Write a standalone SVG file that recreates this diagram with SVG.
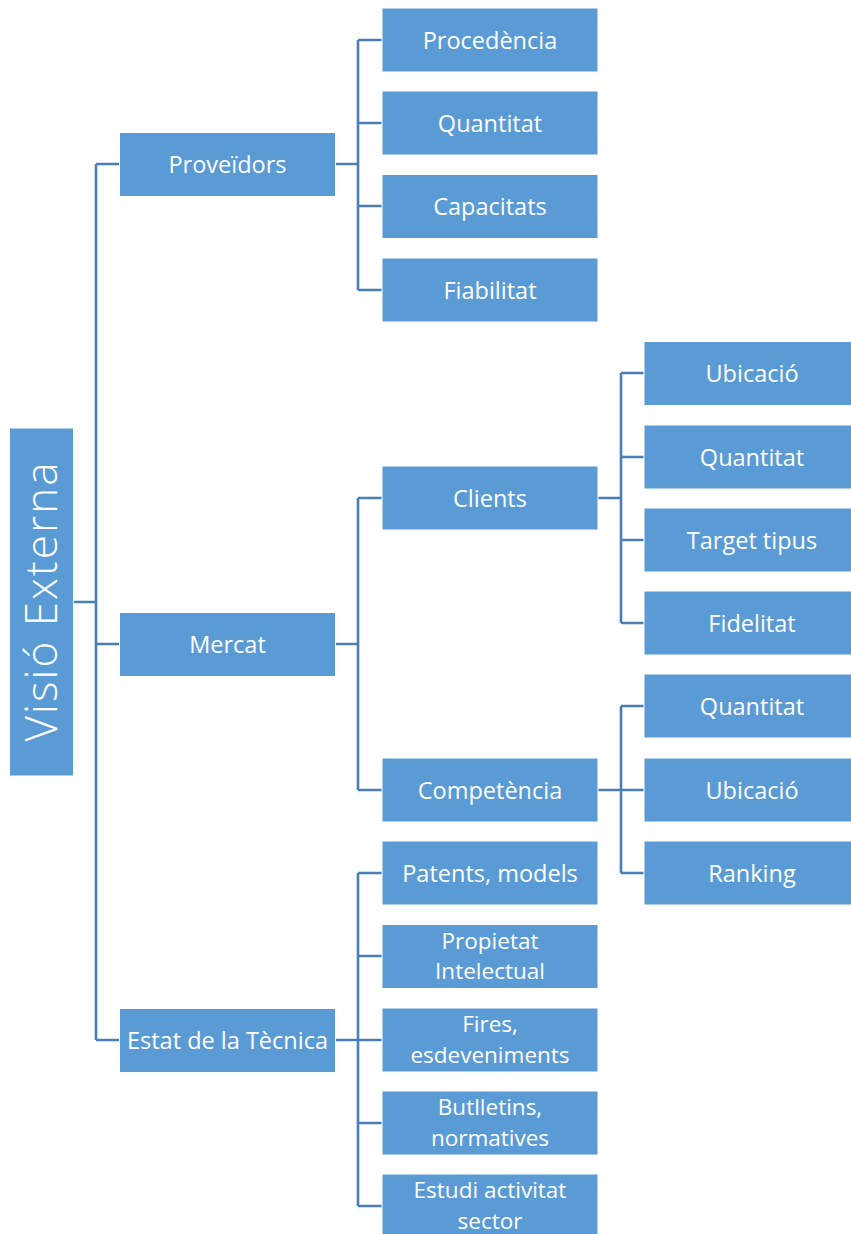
<svg xmlns="http://www.w3.org/2000/svg" width="851" height="1234" viewBox="0 0 851 1234">
  <style>
    .box { fill: #5B9BD5; stroke: #FFFFFF; stroke-width: 1; }
    .lbl { fill: #FFFFFF; font-family: "Open Sans", "Noto Sans", "Liberation Sans", sans-serif; font-size: 23.5px; text-anchor: middle; }
    .lbl2 { font-size: 22.5px; }
    .root { fill: #FFFFFF; font-family: "Open Sans", "Noto Sans", "Liberation Sans", sans-serif; font-weight: 300; font-size: 44px; text-anchor: middle; }
    .conn { fill: none; stroke: #4A7EB7; stroke-width: 2.6; }
  </style>
  <rect width="851" height="1234" fill="#FFFFFF"/>

  <!-- connectors -->
  <g id="connectors" class="conn">
    <!-- root to level 1 -->
    <path d="M73 602 H96 M96 164 V1040 M96 164 H119 M96 644 H119 M96 1040 H119"/>
    <!-- Proveïdors -->
    <path d="M335 164 H358 M358 40 V290 M358 40 H382 M358 123 H382 M358 206 H382 M358 290 H382"/>
    <!-- Mercat -->
    <path d="M335 644 H358 M358 498 V790 M358 498 H382 M358 790 H382"/>
    <!-- Estat de la Tècnica -->
    <path d="M335 1040 H358 M358 873 V1206 M358 873 H382 M358 956 H382 M358 1040 H382 M358 1123 H382 M358 1206 H382"/>
    <!-- Clients -->
    <path d="M598 498 H621 M621 373 V623 M621 373 H644 M621 457 H644 M621 540 H644 M621 623 H644"/>
    <!-- Competència -->
    <path d="M598 790 H621 M621 706 V873 M621 706 H644 M621 790 H644 M621 873 H644"/>
  </g>

  <!-- root -->
  <g id="n-visio-externa">
    <rect class="box" x="9.5" y="428" width="64" height="348"/>
    <text class="root" transform="translate(42 602) rotate(-90)" y="15" textLength="279" lengthAdjust="spacing">Visió Externa</text>
  </g>

  <!-- level 1 -->
  <g id="n-proveidors">
    <rect class="box" x="119.5" y="132.5" width="216" height="64"/>
    <text class="lbl" x="227.5" y="172.5">Proveïdors</text>
  </g>
  <g id="n-mercat">
    <rect class="box" x="119.5" y="612.5" width="216" height="64"/>
    <text class="lbl" x="227.5" y="652.5">Mercat</text>
  </g>
  <g id="n-estat">
    <rect class="box" x="119.5" y="1008.5" width="216" height="64"/>
    <text class="lbl" x="227.5" y="1048.5">Estat de la Tècnica</text>
  </g>

  <!-- level 2: Proveïdors -->
  <g id="n-procedencia">
    <rect class="box" x="382" y="8" width="216" height="64"/>
    <text class="lbl" x="490" y="48.5">Procedència</text>
  </g>
  <g id="n-quantitat-prov">
    <rect class="box" x="382" y="91" width="216" height="64"/>
    <text class="lbl" x="490" y="131.5">Quantitat</text>
  </g>
  <g id="n-capacitats">
    <rect class="box" x="382" y="174.5" width="216" height="64"/>
    <text class="lbl" x="490" y="214.5">Capacitats</text>
  </g>
  <g id="n-fiabilitat">
    <rect class="box" x="382" y="258" width="216" height="64"/>
    <text class="lbl" x="490" y="298.5">Fiabilitat</text>
  </g>

  <!-- level 2: Mercat -->
  <g id="n-clients">
    <rect class="box" x="382" y="466" width="216" height="64"/>
    <text class="lbl" x="490" y="506.5">Clients</text>
  </g>
  <g id="n-competencia">
    <rect class="box" x="382" y="758" width="216" height="64"/>
    <text class="lbl" x="490" y="798.5">Competència</text>
  </g>

  <!-- level 2: Estat de la Tècnica (two-line labels) -->
  <g id="n-patents">
    <rect class="box" x="382" y="841" width="216" height="64"/>
    <text class="lbl" x="490" y="881.5">Patents, models</text>
  </g>
  <g id="n-propietat">
    <rect class="box" x="382" y="924.5" width="216" height="64"/>
    <text class="lbl lbl2" x="490" y="948.5">Propietat<tspan x="490" dy="30.8">Intelectual</tspan></text>
  </g>
  <g id="n-fires">
    <rect class="box" x="382" y="1008" width="216" height="64"/>
    <text class="lbl lbl2" x="490" y="1032">Fires,<tspan x="490" dy="30.8">esdeveniments</tspan></text>
  </g>
  <g id="n-butlletins">
    <rect class="box" x="382" y="1091" width="216" height="64"/>
    <text class="lbl lbl2" x="490" y="1115">Butlletins,<tspan x="490" dy="30.8">normatives</tspan></text>
  </g>
  <g id="n-estudi">
    <rect class="box" x="382" y="1174" width="216" height="64"/>
    <text class="lbl lbl2" x="490" y="1198">Estudi activitat<tspan x="490" dy="30.8">sector</tspan></text>
  </g>

  <!-- level 3: Clients -->
  <g id="n-ubicacio-cli">
    <rect class="box" x="644" y="341.5" width="216" height="64"/>
    <text class="lbl" x="752" y="381.5">Ubicació</text>
  </g>
  <g id="n-quantitat-cli">
    <rect class="box" x="644" y="425" width="216" height="64"/>
    <text class="lbl" x="752" y="465.5">Quantitat</text>
  </g>
  <g id="n-target">
    <rect class="box" x="644" y="508" width="216" height="64"/>
    <text class="lbl" x="752" y="548.5">Target tipus</text>
  </g>
  <g id="n-fidelitat">
    <rect class="box" x="644" y="591" width="216" height="64"/>
    <text class="lbl" x="752" y="631.5">Fidelitat</text>
  </g>

  <!-- level 3: Competència -->
  <g id="n-quantitat-comp">
    <rect class="box" x="644" y="674" width="216" height="64"/>
    <text class="lbl" x="752" y="714.5">Quantitat</text>
  </g>
  <g id="n-ubicacio-comp">
    <rect class="box" x="644" y="758" width="216" height="64"/>
    <text class="lbl" x="752" y="798.5">Ubicació</text>
  </g>
  <g id="n-ranking">
    <rect class="box" x="644" y="841" width="216" height="64"/>
    <text class="lbl" x="752" y="881.5">Ranking</text>
  </g>
</svg>
